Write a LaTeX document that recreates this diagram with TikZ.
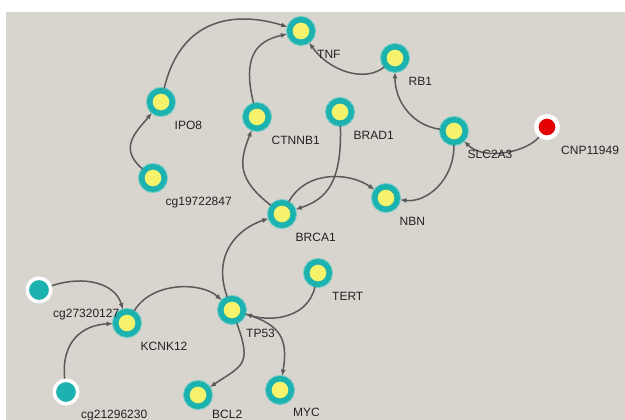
\documentclass[tikz,border=0pt]{standalone}
\usepackage{fontspec}
\setmainfont{Liberation Sans}
\usetikzlibrary{arrows.meta,calc}
\definecolor{bgc}{RGB}{216,212,206}
\definecolor{tealc}{RGB}{28,178,176}
\definecolor{tealglow}{RGB}{120,205,200}
\definecolor{yelc}{RGB}{246,242,108}
\definecolor{redc}{RGB}{228,0,0}
\definecolor{edgec}{RGB}{90,90,90}
\definecolor{txtc}{RGB}{35,35,35}
\begin{document}
\begin{tikzpicture}[x=1pt,y=1pt,
  gene/.style={circle, draw=tealc, fill=yelc, line width=5.5pt, minimum size=22.5pt, inner sep=0pt,
    preaction={draw=tealglow, line width=7.5pt}},
  cpg/.style={circle, draw=white, fill=tealc, line width=3.5pt, minimum size=23.5pt, inner sep=0pt},
  cnv/.style={circle, draw=white, fill=redc, line width=4.5pt, minimum size=21.5pt, inner sep=0pt},
  lbl/.style={anchor=base west, inner sep=0pt, text=txtc, font=\fontsize{12}{14}\selectfont},
  edge/.style={draw=edgec, line width=1.5pt, -{Latex[length=6.5pt,width=5pt]}}
]
\useasboundingbox (0,0) rectangle (625,420);
\fill[white] (0,0) rectangle (625,420);
\fill[bgc] (6,0) rectangle (625,408);

% nodes
\node[gene] (TNF) at (301,389) {};
\node[gene] (RB1) at (395,362) {};
\node[gene] (IPO8) at (161,318) {};
\node[gene] (CTNNB1) at (257,303) {};
\node[gene] (BRAD1) at (340,308) {};
\node[gene] (SLC2A3) at (454,289) {};
\node[cnv] (CNP) at (547,293) {};
\node[gene] (CG197) at (153,242) {};
\node[gene] (NBN) at (386,222) {};
\node[gene] (BRCA1) at (282,206) {};
\node[gene] (TERT) at (318,147) {};
\node[cpg] (CG273) at (39,130) {};
\node[gene] (KCNK12) at (127,97) {};
\node[gene] (TP53) at (232,110) {};
\node[cpg] (CG212) at (66,28) {};
\node[gene] (BCL2) at (198,25) {};
\node[gene] (MYC) at (280,30) {};

% edges
\draw[edge] (IPO8) .. controls +(20,85) and +(-65,20) .. (TNF);
\draw[edge] (CTNNB1) .. controls +(-15,60) and +(-45,-10) .. (TNF);
\draw[edge] (RB1) .. controls +(-30,-25) and +(28,-40) .. (TNF);
\draw[edge] (SLC2A3) .. controls +(-40,5) and +(0,-45) .. (RB1);
\draw[edge] (CNP) .. controls +(-20,-25) and +(30,-30) .. (SLC2A3);
\draw[edge] (SLC2A3) .. controls +(0,-50) and +(40,-5) .. (NBN);
\draw[edge] (BRCA1) .. controls +(25,45) and +(-35,25) .. (NBN);
\draw[edge] (BRAD1) .. controls +(2,-70) and +(45,15) .. (BRCA1);
\draw[edge] (BRCA1) .. controls +(-45,35) and +(-18,-45) .. (CTNNB1);
\draw[edge] (CG197) .. controls +(-35,30) and +(-25,-30) .. (IPO8);
\draw[edge] (TP53) .. controls +(-20,55) and +(-45,-15) .. (BRCA1);
\draw[edge] (TERT) .. controls +(-10,-45) and +(40,-12) .. (TP53);
\draw[edge] (TP53) .. controls +(50,-15) and +(8,50) .. (MYC);
\draw[edge] (TP53) .. controls +(20,-55) and +(45,30) .. (BCL2);
\draw[edge] (KCNK12) .. controls +(25,42) and +(-30,28) .. (TP53);
\draw[edge] (CG273) .. controls +(45,15) and +(-12,40) .. (KCNK12);
\draw[edge] (CG212) .. controls +(-5,50) and +(-45,-2) .. (KCNK12);

% labels
\node[lbl] (TNFl) at ($(TNF)+(16,-27.8)$) {TNF};
\node[lbl] (RB1l) at ($(RB1)+(13.5,-27.8)$) {RB1};
\node[lbl] (IPO8l) at ($(IPO8)+(13.5,-27.8)$) {IPO8};
\node[lbl] (CTNNB1l) at ($(CTNNB1)+(14.5,-27.8)$) {CTNNB1};
\node[lbl] (BRAD1l) at ($(BRAD1)+(13.5,-27.8)$) {BRAD1};
\node[lbl] (SLC2A3l) at ($(SLC2A3)+(13.5,-27.8)$) {SLC2A3};
\node[lbl] (CNPl) at ($(CNP)+(14,-27.3)$) {CNP11949};
\node[lbl] (CG197l) at ($(CG197)+(12.5,-27.8)$) {cg19722847};
\node[lbl] (NBNl) at ($(NBN)+(13.5,-27.8)$) {NBN};
\node[lbl] (BRCA1l) at ($(BRCA1)+(13.5,-27.8)$) {BRCA1};
\node[lbl] (TERTl) at ($(TERT)+(14,-27.8)$) {TERT};
\node[lbl] (CG273l) at ($(CG273)+(14,-27.3)$) {cg27320127};
\node[lbl] (KCNK12l) at ($(KCNK12)+(13.5,-27.8)$) {KCNK12};
\node[lbl] (TP53l) at ($(TP53)+(14,-27.3)$) {TP53};
\node[lbl] (CG212l) at ($(CG212)+(15,-26.3)$) {cg21296230};
\node[lbl] (BCL2l) at ($(BCL2)+(14,-23.5)$) {BCL2};
\node[lbl] (MYCl) at ($(MYC)+(13,-26.3)$) {MYC};
\end{tikzpicture}
\end{document}
